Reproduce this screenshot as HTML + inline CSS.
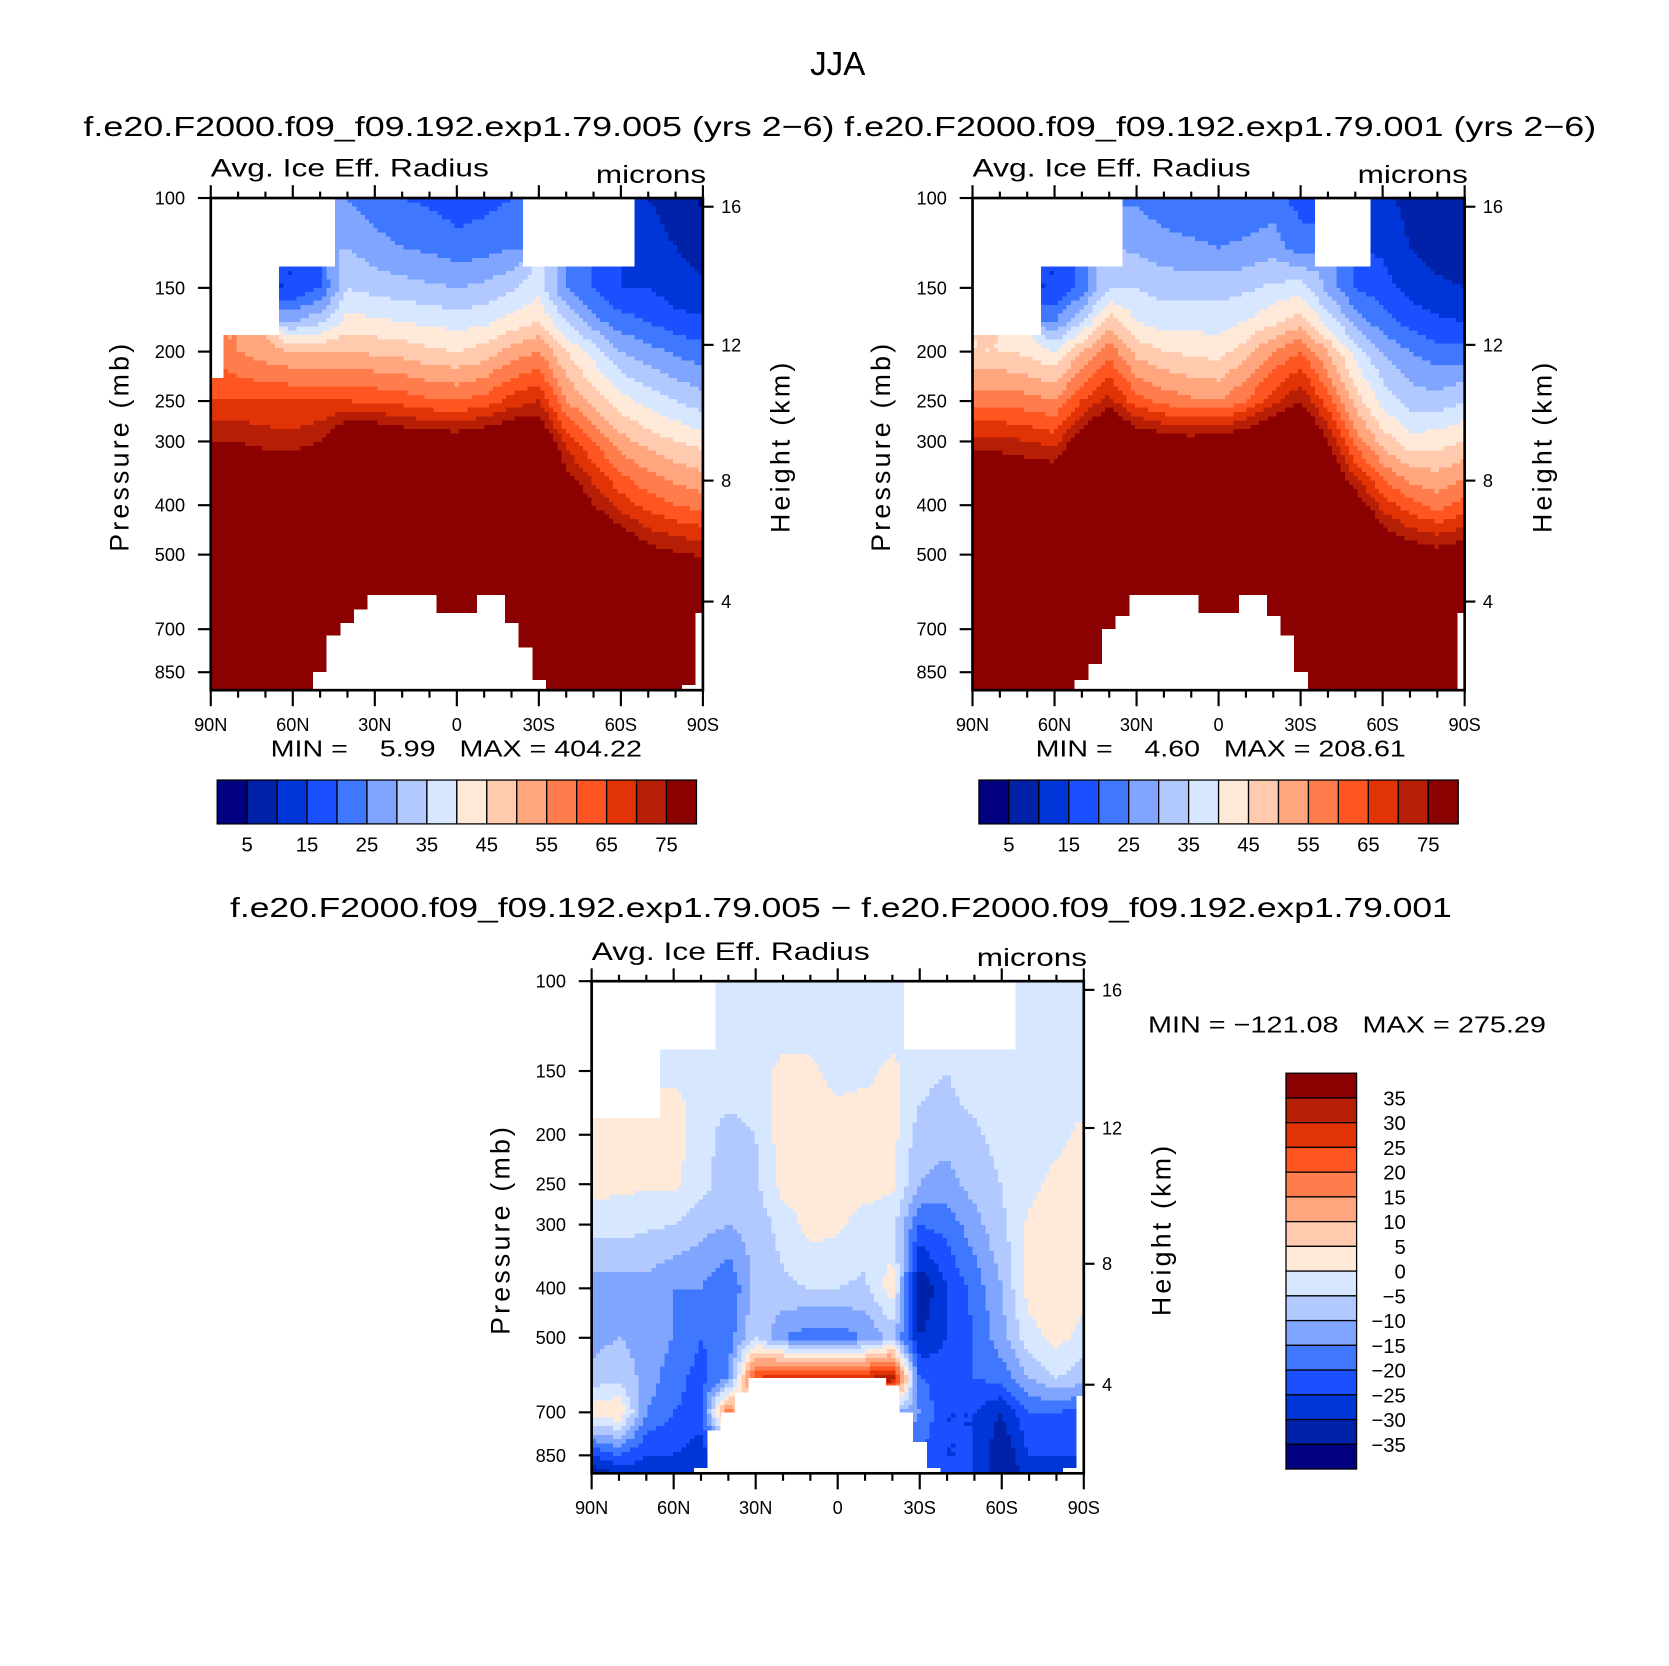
<!DOCTYPE html>
<html><head><meta charset="utf-8"><style>
html,body{margin:0;padding:0;background:#fff;width:1669px;height:1666px;overflow:hidden}
svg{display:block}
text{font-family:"Liberation Sans",sans-serif;fill:#000;white-space:pre}
</style></head><body>
<svg id="fig" width="1669" height="1666" viewBox="0 0 1560 1557" xmlns="http://www.w3.org/2000/svg">
<rect width="1560" height="1557" fill="#fff"/>
<text x="783" y="70" font-size="31" text-anchor="middle">JJA</text>
<text x="78" y="127" font-size="26" textLength="702" lengthAdjust="spacingAndGlyphs">f.e20.F2000.f09_f09.192.exp1.79.005 (yrs 2−6)</text>
<text x="789" y="127" font-size="26" textLength="703" lengthAdjust="spacingAndGlyphs">f.e20.F2000.f09_f09.192.exp1.79.001 (yrs 2−6)</text>
<text x="215" y="857" font-size="26" textLength="1142" lengthAdjust="spacingAndGlyphs">f.e20.F2000.f09_f09.192.exp1.79.005 − f.e20.F2000.f09_f09.192.exp1.79.001</text>
</svg>
<script>
// ---- data ----
const levels = [100,125,150,175,200,250,300,400,500,600,700,850,925];
const lats = [90,80,70,60,50,40,30,20,10,0,-10,-20,-30,-40,-50,-60,-70,-80,-90];
const sfcLats = [90,85,80,75,70,65,60,55,50,45,40,35,30,25,20,15,10,5,0,-5,-10,-15,-20,-25,-30,-35,-40,-45,-50,-55,-60,-65,-70,-75,-80,-85,-90];
const absLevels = [5,10,15,20,25,30,35,40,45,50,55,60,65,70,75];
const absTickLabels = ['5','15','25','35','45','55','65','75'];
const diffLevels = [-35,-30,-25,-20,-15,-10,-5,0,5,10,15,20,25,30,35];
const pressureTicks = [100,150,200,250,300,400,500,700,850];
const heightTicks = [16,12,8,4];
const heightTickP = [104,194,358,618];
const latTickLabels = ['90N','60N','30N','0','30S','60S','90S'];
const palette = ['#000080','#0022a8','#0036d8','#1a50ff','#3f78ff','#7fa5ff','#b2c9ff','#d6e7ff','#ffe9d9','#ffcaae','#ffa67f','#ff7c4c','#ff5621','#e23306','#b61f06','#8b0000'];
const N = null;
// rows = latitudes (90N..90S), columns = levels (100..925 mb)
const field1 = [
 [N,N,N,N,N,65,75,90,110,120,120,120,120],
 [N,N,N,N,55,65,75,90,110,120,120,120,120],
 [N,N,N,N,52,65,73,90,110,120,120,120,120],
 [N,N,15,30,50,65,72,90,110,120,120,120,120],
 [N,N,20,34,50,65,75,95,110,120,120,120,120],
 [25,30,35,42,50,65,85,100,110,120,120,120,120],
 [22,27,33,41,49,64,85,100,110,120,120,120,120],
 [20,25,32,40,48,63,82,100,110,120,120,120,120],
 [19,24,31,39,46,61,80,100,110,120,120,120,120],
 [17,22,30,38,45,60,80,100,110,120,120,120,120],
 [18,23,31,39,47,62,82,100,110,120,120,120,120],
 [20,25,34,42,52,67,85,100,110,120,120,120,120],
 [N,N,38,45,55,70,85,100,110,120,120,120,120],
 [N,N,25,35,45,55,68,85,105,120,120,120,120],
 [N,N,20,27,38,48,60,75,90,110,120,120,120],
 [N,N,15,22,30,42,52,68,85,100,120,120,120],
 [10,12,15,20,27,38,48,63,78,95,110,120,120],
 [8,10,12,17,24,35,45,60,76,92,110,120,120],
 [4,8,11,16,22,32,43,58,74,90,110,120,120]
];
const sfc1 = [1000,1000,1000,1000,1000,1000,1000,1000,850,720,680,640,600,600,600,600,600,650,650,650,600,600,680,760,880,950,1000,1000,1000,1000,1000,1000,1000,1000,1000,900,650];
const field2 = [
 [N,N,N,N,45,58,72,90,110,120,120,120,120],
 [N,N,N,N,45,58,72,90,110,120,120,120,120],
 [N,N,N,N,44,57,70,90,110,120,120,120,120],
 [N,N,15,25,40,55,68,90,110,120,120,120,120],
 [N,N,22,35,50,65,80,100,110,120,120,120,120],
 [N,N,35,48,58,72,90,100,110,120,120,120,120],
 [24,29,35,40,48,62,82,100,110,120,120,120,120],
 [22,27,33,38,45,58,80,100,110,120,120,120,120],
 [21,26,33,38,44,56,78,100,110,120,120,120,120],
 [20,25,33,38,43,55,80,100,110,120,120,120,120],
 [21,26,34,40,48,60,82,100,110,120,120,120,120],
 [22,28,36,44,55,68,88,100,110,120,120,120,120],
 [18,22,38,48,60,75,90,100,110,120,120,120,120],
 [N,N,28,38,50,62,75,90,110,120,120,120,120],
 [N,N,20,28,38,48,58,80,100,120,120,120,120],
 [12,14,17,22,30,38,48,68,85,110,120,120,120],
 [8,10,13,18,25,33,42,62,80,100,120,120,120],
 [6,8,11,16,22,32,43,58,78,95,120,120,120],
 [5,7,10,15,22,35,45,62,80,95,120,120,120]
];
const sfc2 = [1000,1000,1000,1000,1000,1000,1000,1000,880,820,700,660,600,600,600,600,600,650,650,650,600,600,660,720,850,930,1000,1000,1000,1000,1000,1000,1000,1000,1000,950,650];
const field3 = [
 [N,N,N,N,3,2,-3,-12,-12,-8,3,-25,-35],
 [N,N,N,N,2,1,-3,-12,-10,-6,5,-20,-30],
 [N,N,N,N,1,1,-4,-12,-12,-12,-15,-25,-28],
 [N,N,-2,2,2,1,-5,-15,-15,-18,-20,-25,-28],
 [N,N,-2,-3,-2,-3,-8,-15,-20,-22,-22,-28,-30],
 [-3,-2,-3,-4,-8,-8,-10,-20,-18,-15,20,-20,-25],
 [-3,-3,-3,-3,-5,-6,-8,-8,-5,25,-10,-10,-10],
 [-3,-3,2,2,3,2,-3,-6,-15,30,-5,-5,-5],
 [-3,-3,2,3,3,3,2,-5,-18,30,-5,-5,-5],
 [-3,-3,-3,1,2,2,1,-5,-18,30,-5,-5,-5],
 [-3,-3,-2,2,2,2,-2,-6,-15,30,-5,-5,-5],
 [-3,-3,2,2,2,1,-3,3,-8,35,-10,-10,-10],
 [N,N,-4,-5,-8,-10,-20,-35,-30,-20,-15,-20,-20],
 [N,N,-5,-6,-8,-12,-18,-25,-25,-22,-25,-25,-20],
 [N,N,-3,-4,-6,-8,-12,-18,-20,-20,-25,-25,-25],
 [N,N,-3,-3,-3,-5,-6,-10,-12,-18,-30,-35,-35],
 [-2,-2,-2,-2,-3,-2,1,2,-2,-10,-20,-25,-28],
 [-2,-2,-2,-2,-2,2,4,4,2,-5,-20,-25,-30],
 [-2,-2,-2,-2,2,3,3,2,-2,-8,-22,-25,-25]
];
const sfc3 = [1000,1000,1000,1000,1000,1000,1000,1000,900,760,700,640,600,600,600,600,600,600,600,600,600,600,620,700,800,900,1000,1000,1000,1000,1000,1000,1000,1000,1000,900,650];

// ---- drawing ----
const NS='http://www.w3.org/2000/svg';
const svg=document.getElementById('fig');
const W=460,H=460,KP=207.1;
function mk(tag,attrs,parent){const e=document.createElementNS(NS,tag);for(const k in attrs)e.setAttribute(k,attrs[k]);(parent||svg).appendChild(e);return e;}
function colorIdx(v,thr){let i=0;for(const t of thr){if(v>=t)i++;}return i;}
const lnLev=levels.map(p=>Math.log(p));
function sample(grid,lat,p){
  const fi=Math.min(lats.length-1,Math.max(0,(90-lat)/10));
  const lp=Math.log(p);
  let fj;
  if(lp<=lnLev[0])fj=0;else if(lp>=lnLev[lnLev.length-1])fj=lnLev.length-1;
  else{let j=0;while(lnLev[j+1]<lp)j++;fj=j+(lp-lnLev[j])/(lnLev[j+1]-lnLev[j]);}
  const ni=Math.round(fi),nj=Math.round(fj);
  if(grid[ni][nj]===null)return null;
  const i0=Math.floor(fi),i1=Math.min(lats.length-1,i0+1),j0=Math.floor(fj),j1=Math.min(levels.length-1,j0+1);
  const a=fi-i0,b=fj-j0;
  let s=0,w=0;
  [[i0,j0,(1-a)*(1-b)],[i1,j0,a*(1-b)],[i0,j1,(1-a)*b],[i1,j1,a*b]].forEach(([i,j,ww])=>{const v=grid[i][j];if(v!==null&&ww>0){s+=v*ww;w+=ww;}});
  return w>0?s/w:grid[ni][nj];
}

function drawPanel(ox,oy,grid,sfc,thr,name){
  const xs=lat=>ox+(90-lat)*W/180;
  const ys=p=>oy+KP*Math.log(p/100);
  const g=mk('g',{});
  
  
  const cells=mk('g',{'shape-rendering':'crispEdges'},g);
  
  
  const step=4;
  for(let yy=0;yy<H;yy+=step){
    const p=100*Math.exp((yy+step/2)/KP);
    let run=null;
    const flush=()=>{if(run){const r=mk('rect',{x:ox+run.x0,y:oy+yy,width:run.x1-run.x0,height:Math.min(step,H-yy),fill:palette[run.c]},cells);
      
      run=null;}};
    for(let xx=0;xx<W;xx+=step){
      const lat=90-(xx+step/2)*180/W;
      const v=sample(grid,lat,p);
      if(v===null){flush();continue;}
      const c=colorIdx(v,thr);
      if(run&&run.c===c)run.x1=Math.min(W,xx+step);else{flush();run={x0:xx,x1:Math.min(W,xx+step),c:c};}
    }
    flush();
  }
  for(let k=0;k<sfcLats.length;k++){
    if(sfc[k]>=1000)continue;
    const x0=xs(Math.min(90,sfcLats[k]+2.5)),x1=xs(Math.max(-90,sfcLats[k]-2.5));
    const m=mk('rect',{x:x0-0.3,y:ys(sfc[k]),width:x1-x0+0.6,height:oy+H-ys(sfc[k]),fill:'#fff'},cells);
    
    
  }
  mk('rect',{x:ox,y:oy,width:W,height:H,fill:'none',stroke:'#000','stroke-width':2.5},g);
  pressureTicks.forEach(p=>{
    const y=ys(p);
    mk('line',{x1:ox-12,y1:y,x2:ox,y2:y,stroke:'#000','stroke-width':2},g);
    const t=mk('text',{x:ox-24,y:y+6,'font-size':17,'text-anchor':'end'},g);t.textContent=p;
    
    
  });
  heightTicks.forEach((h,k)=>{
    const y=ys(heightTickP[k]);
    mk('line',{x1:ox+W,y1:y,x2:ox+W+10,y2:y,stroke:'#000','stroke-width':2},g);
    const t=mk('text',{x:ox+W+17,y:y+6,'font-size':17},g);t.textContent=h;
    
    
  });
  for(let lat=90;lat>=-90;lat-=10){
    const x=xs(lat),maj=lat%30===0;
    mk('line',{x1:x,y1:oy,x2:x,y2:oy-(maj?12:6),stroke:'#000','stroke-width':2},g);
    mk('line',{x1:x,y1:oy+H,x2:x,y2:oy+H+(maj?15:7),stroke:'#000','stroke-width':2},g);
  }
  latTickLabels.forEach((l,k)=>{
    const t=mk('text',{x:xs(90-30*k),y:oy+H+38,'font-size':17,'text-anchor':'middle'},g);t.textContent=l;
    
    
  });
  const a=mk('text',{x:ox,y:oy-20,'font-size':23,textLength:260,lengthAdjust:'spacingAndGlyphs'},g);a.textContent='Avg. Ice Eff. Radius';
  
  
  const u=mk('text',{x:ox+W+3,y:oy-14,'font-size':23,'text-anchor':'end',textLength:103,lengthAdjust:'spacingAndGlyphs'},g);u.textContent='microns';
  
  
  const yl=mk('text',{x:0,y:0,'font-size':25,'text-anchor':'middle','letter-spacing':'3',transform:`translate(${ox-77},${oy+232}) rotate(-90)`},g);yl.textContent='Pressure (mb)';
  
  
  const yr=mk('text',{x:0,y:0,'font-size':25,'text-anchor':'middle','letter-spacing':'3',transform:`translate(${ox+W+81},${oy+232}) rotate(-90)`},g);yr.textContent='Height (km)';
  
  
}

function hColorbar(x0,y0,name){
  const g=mk('g',{});
  
  
  for(let i=0;i<16;i++){
    const r=mk('rect',{x:x0+i*28,y:y0,width:28,height:41,fill:palette[i],stroke:'#000','stroke-width':1.2},g);
    
    
  }
  absTickLabels.forEach((l,k)=>{
    const t=mk('text',{x:x0+28*(2*k+1),y:y0+67,'font-size':19,'text-anchor':'middle'},g);t.textContent=l;
    
    
  });
}

drawPanel(197,185,field1,sfc1,absLevels,'left-panel');
drawPanel(909,185,field2,sfc2,absLevels,'right-panel');
drawPanel(553,917,field3,sfc3,diffLevels,'diff-panel');
hColorbar(203,729,'left-colorbar');
hColorbar(915,729,'right-colorbar');

(function(){
  const g=mk('g',{});
  
  
  const h=370/16;
  for(let i=0;i<16;i++){
    const r=mk('rect',{x:1202,y:1003+i*h,width:66,height:h,fill:palette[15-i],stroke:'#000','stroke-width':1.2},g);
    
    
  }
  for(let k=1;k<=15;k++){
    const v=diffLevels[15-k];
    const t=mk('text',{x:1314,y:1003+k*h+7,'font-size':19,'text-anchor':'end'},g);
    t.textContent=v<0?'−'+(-v):String(v);
    
    
  }
})();

function stat(x,y,s,w,name){const t=mk('text',{x:x,y:y,'font-size':22,textLength:w,lengthAdjust:'spacingAndGlyphs'});t.textContent=s;
  
  }
stat(253,707,'MIN =    5.99   MAX = 404.22',347,'left-min-max');
stat(968,707,'MIN =    4.60   MAX = 208.61',346,'right-min-max');
stat(1073,965,'MIN = −121.08   MAX = 275.29',372,'diff-min-max');
</script>
</body></html>
